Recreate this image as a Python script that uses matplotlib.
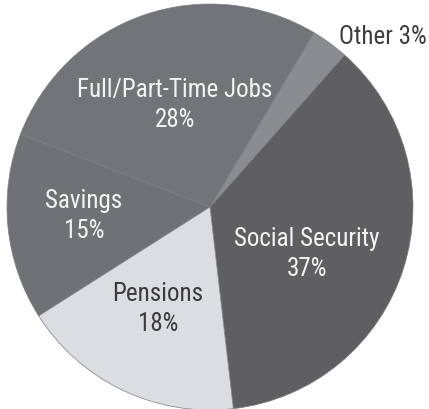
import matplotlib
matplotlib.use("Agg")
from matplotlib import pyplot as plt

# 退休收入来源
labels = ["Social Security", "Other", "Full/Part-Time Jobs", "Savings", "Pensions"]
shares = [37, 3, 28, 15, 18]
colors = ["#5f5f62", "#8b8c8f", "#737478", "#707175", "#dcdde0"]
text_colors = ["#f4f4f4", "#3c3c3e", "#f4f4f4", "#f4f4f4", "#3a3a3c"]
# 标签位置（以饼半径为单位）
label_pos = [(0.478, -0.232), (0.852, 0.837), (-0.172, 0.502), (-0.621, -0.044), (-0.256, -0.502)]

plt.rcParams["font.family"] = ["Roboto Condensed", "DejaVu Sans"]
plt.rcParams["font.stretch"] = "condensed"

fig = plt.figure(figsize=(4.29, 4.09), dpi=100)
ax = fig.add_axes([0, 0, 1, 1])
ax.pie(shares, colors=colors, startangle=276.6, counterclock=True,
       wedgeprops=dict(edgecolor="#7d7e82", linewidth=0.5))

for name, val, (x, y), c in zip(labels, shares, label_pos, text_colors):
    if name == "Other":
        s = f"{name} {val}%"
    else:
        s = f"{name}\n{val}%"
    ax.text(x, y, s, ha="center", va="center", color=c, fontsize=18,
            fontweight="normal", linespacing=1.3)

ax.set_xlim(-1.0345, 1.0788)
ax.set_ylim(-0.9951, 1.0197)
ax.set_aspect("auto")
ax.axis("off")
fig.savefig("out.png", dpi=100)
